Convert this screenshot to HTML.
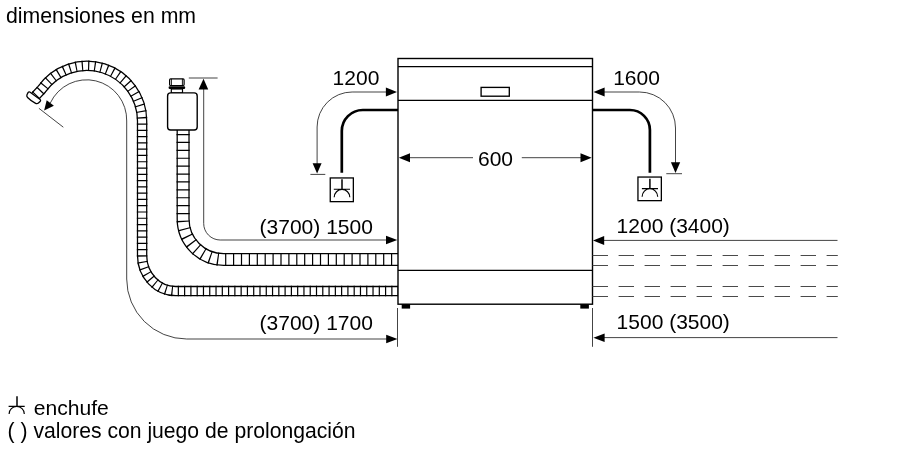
<!DOCTYPE html>
<html lang="es">
<head>
<meta charset="utf-8">
<title>dimensiones en mm</title>
<style>
  html, body { margin: 0; padding: 0; background: #fff; }
  body { width: 900px; height: 450px; overflow: hidden; position: relative; }
  svg { position: absolute; left: 0; top: 0; display: block; will-change: transform; }
  text { font-family: "Liberation Sans", Arial, sans-serif; fill: #000; }
  .t  { font-size: 21px; }
  .thin { fill: none; stroke: #222; stroke-width: 0.85; }
  .body { fill: none; stroke: #000; stroke-width: 1.4; }
  .cable { fill: none; stroke: #000; stroke-width: 2.7; }
  .ah { fill: #000; stroke: none; }
</style>
</head>
<body>
<svg width="900" height="450" viewBox="0 0 900 450">
  <rect x="0" y="0" width="900" height="450" fill="#fff"/>

  <!-- title -->
  <text class="t" x="5.9" y="22.7" style="font-size:21.25px">dimensiones en mm</text>

  <!-- ===== drain hose (outer, long) ===== -->
  <g id="drain">
    <path d="M398 291.1 H175.6 A33.5 35.5 0 0 1 142.1 255.6 V121 A55.2 55.2 0 0 0 41.68 89.34 L35.2 96.2" fill="none" stroke="#000" stroke-width="10.5"/>
    <path d="M398 291.1 H175.6 A33.5 35.5 0 0 1 142.1 255.6 V121 A55.2 55.2 0 0 0 41.68 89.34 L35.2 96.2" fill="none" stroke="#fff" stroke-width="7.95"/>
    <path d="M398 291.1 H175.6 A33.5 35.5 0 0 1 142.1 255.6 V121 A55.2 55.2 0 0 0 41.68 89.34 L35.2 96.2" fill="none" stroke="#000" stroke-width="10.5" stroke-dasharray="1.2 5.08" stroke-dashoffset="0.75"/>
    <!-- end cap -->
    <path d="M-6.4 -2.8 H6.4 Q7.5 -2.8 7.5 -1.6 L7.1 1 Q6.7 2.6 5 2.9 Q0 3.7 -5 2.9 Q-6.7 2.6 -7.1 1 L-7.5 -1.6 Q-7.5 -2.8 -6.4 -2.8 Z" fill="#fff" stroke="#000" stroke-width="1.3" stroke-linejoin="round" transform="translate(33.3 98.1) rotate(36)"/>
  </g>

  <!-- ===== inlet hose (with aquastop valve) ===== -->
  <g id="inlet">
    <path d="M398 259.55 H223.6 A40.5 40.5 0 0 1 183.1 219.05 V130" fill="none" stroke="#000" stroke-width="13.1"/>
    <path d="M398 259.55 H223.6 A40.5 40.5 0 0 1 183.1 219.05 V130" fill="none" stroke="#fff" stroke-width="10.55"/>
    <path d="M398 259.55 H223.6 A40.5 40.5 0 0 1 183.1 219.05 V130" fill="none" stroke="#000" stroke-width="13.1" stroke-dasharray="1.2 6.7" stroke-dashoffset="2.1"/>
    <!-- valve -->
    <rect x="169.6" y="78.9" width="14.5" height="6.6" rx="1" fill="#fff" stroke="#000" stroke-width="1.2"/>
    <path d="M171.4 78.9 V85.5 M182.4 78.9 V85.5" stroke="#000" stroke-width="0.9" fill="none"/>
    <rect x="168.6" y="86.2" width="16.6" height="2.8" rx="1.2" fill="#000"/>
    <rect x="171.3" y="89" width="11.2" height="4" fill="#fff" stroke="#000" stroke-width="1.2"/>
    <rect x="167.6" y="92.9" width="29.6" height="37.1" rx="3" fill="#fff" stroke="#000" stroke-width="1.4"/>
  </g>

  <!-- dimension: valve / inlet 1500 -->
  <path class="thin" d="M188.8 78 H217.6"/>
  <path class="thin" d="M203.7 88 V223.5 A16.5 16.5 0 0 0 220.2 240 H388"/>
  <path class="ah" d="M203.5 78.8 L198.6 89.5 L208.2 89.5 Z"/>
  <path class="ah" d="M397.3 240 L386 235.7 L386 244.3 Z"/>

  <!-- dimension: drain 1700 -->
  <path class="thin" d="M38.9 108.3 L63.3 127.2"/>
  <path class="thin" d="M50.3 103 A40.1 40.3 0 0 1 126.7 121 V279 A60 60 0 0 0 186.7 339 H388"/>
  <path class="ah" d="M44.1 110.6 L46.7 100.2 L53.9 105.8 Z"/>
  <path class="ah" d="M397.5 339 L386.2 334.7 L386.2 343.3 Z"/>
  <path class="thin" d="M397.5 308 V346.8 M592.5 308 V346.8"/>

  <!-- ===== dishwasher ===== -->
  <rect class="body" x="398" y="58.5" width="194.5" height="245.7" fill="#fff"/>
  <path class="body" d="M398 66.7 H592.5" style="stroke-width:1.2"/>
  <path class="body" d="M398 100.4 H592.5" style="stroke-width:1.2"/>
  <path class="body" d="M398 270.4 H592.5" style="stroke-width:1.2"/>
  <rect x="481.1" y="87.4" width="28.2" height="8.8" fill="#fff" stroke="#000" stroke-width="1.35"/>
  <rect x="401.7" y="304.2" width="8.4" height="4.4" fill="#000"/>
  <rect x="580.3" y="304.2" width="8.6" height="4.4" fill="#000"/>

  <!-- 600 -->
  <path class="thin" d="M408 157.7 H473 M521.8 157.7 H582"/>
  <path class="ah" d="M398.8 157.7 L410 153.2 L410 162.2 Z"/>
  <path class="ah" d="M591.7 157.7 L580.5 153.2 L580.5 162.2 Z"/>
  <text class="t" x="478" y="165.5">600</text>

  <!-- ===== left power cable + socket ===== -->
  <path class="cable" d="M398 110 H362.8 A21 21 0 0 0 341.8 131 V172.7"/>
  <rect x="330.25" y="177.95" width="23.1" height="23.7" fill="#fff" stroke="#000" stroke-width="1.3"/>
  <path d="M342 179.3 V189.2" fill="none" stroke="#000" stroke-width="1.5"/>
  <path d="M333.8 189.2 H350 M334.2 197.3 A7.8 7.9 0 0 1 349.8 197.3" fill="none" stroke="#000" stroke-width="1.15"/>
  <!-- 1200 dimension -->
  <path class="thin" d="M388 92 H352.1 A35 35 0 0 0 317.1 127 V164"/>
  <path class="ah" d="M397 92 L385.9 87.6 L385.9 96.4 Z"/>
  <path class="ah" d="M317.1 173.6 L312.6 163.2 L321.6 163.2 Z"/>
  <path class="thin" d="M310.4 174.4 H325.3"/>
  <text class="t" x="332.6" y="85.2">1200</text>

  <!-- ===== right power cable + socket ===== -->
  <path class="cable" d="M592.5 110 H629.9 A20 20 0 0 1 649.9 130 V172.7"/>
  <rect x="637.95" y="177.05" width="23.4" height="23.6" fill="#fff" stroke="#000" stroke-width="1.3"/>
  <path d="M649.9 178.7 V188.6" fill="none" stroke="#000" stroke-width="1.5"/>
  <path d="M641.9 188.6 H658 M642.1 196.7 A7.8 7.9 0 0 1 657.7 196.7" fill="none" stroke="#000" stroke-width="1.15"/>
  <!-- 1600 dimension -->
  <path class="thin" d="M602 92 H639.5 A36 36 0 0 1 675.5 128 V164"/>
  <path class="ah" d="M593.5 92 L604.6 87.6 L604.6 96.4 Z"/>
  <path class="ah" d="M675.5 173 L670.9 162.3 L680.2 162.3 Z"/>
  <path class="thin" d="M666.3 173.7 H682"/>
  <text class="t" x="613.2" y="84.6">1600</text>

  <!-- ===== left labels ===== -->
  <text class="t" x="259.6" y="233.8">(3700) 1500</text>
  <text class="t" x="259.6" y="329.8">(3700) 1700</text>

  <!-- ===== right side ===== -->
  <path class="thin" d="M602 240.4 H837.5"/>
  <path class="ah" d="M593 240.4 L604.2 235.9 L604.2 244.9 Z"/>
  <text class="t" x="616.6" y="233">1200 (3400)</text>
  <path d="M592.6 255.5 H837.8 M592.6 265.5 H837.8 M592.6 286.5 H837.8 M592.6 296.5 H837.8" fill="none" stroke="#4a4a4a" stroke-width="1" stroke-dasharray="15.4 10.6"/>
  <path class="thin" d="M602 337.6 H837.5"/>
  <path class="ah" d="M593.4 337.7 L604.6 333.4 L604.6 342 Z"/>
  <text class="t" x="616.6" y="328.8">1500 (3500)</text>

  <!-- ===== legend ===== -->
  <path d="M17 396.2 V406.3" fill="none" stroke="#000" stroke-width="1.5"/>
  <path d="M8.6 406.3 H24.7 M9.1 413.9 A7.6 7.4 0 0 1 24.3 413.9" fill="none" stroke="#000" stroke-width="1.15"/>
  <text class="t" x="33.7" y="415" style="font-size:21.1px">enchufe</text>
  <text class="t" x="7.6" y="438" style="font-size:21.15px">( ) valores con juego de prolongación</text>
</svg>
</body>
</html>
